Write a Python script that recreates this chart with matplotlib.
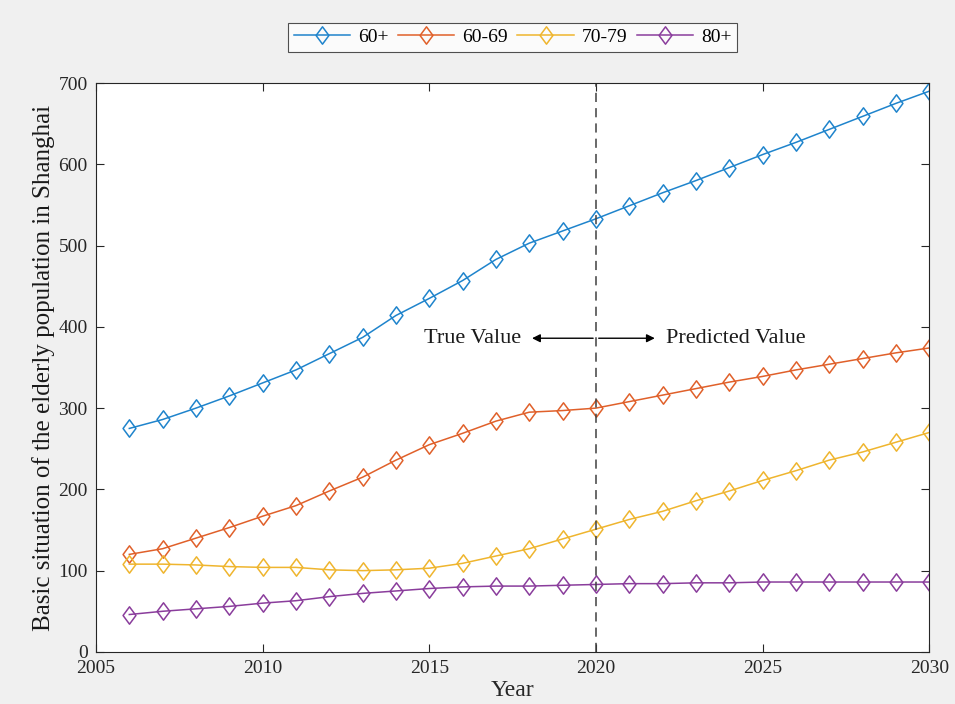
import matplotlib
matplotlib.use("Agg")
import matplotlib.pyplot as plt
from matplotlib.path import Path

years = list(range(2006, 2031))
age_60_plus = [275, 286, 300, 315, 331, 347, 367, 387, 414, 435, 457, 483, 503, 518,
               533, 549, 565, 580, 596, 612, 627, 643, 659, 675, 690]
age_60_69 = [120, 127, 140, 153, 167, 180, 198, 215, 236, 255, 269, 284, 295, 297,
             300, 308, 316, 324, 332, 339, 347, 354, 361, 368, 374]
age_70_79 = [108, 108, 107, 105, 104, 104, 101, 100, 101, 103, 109, 118, 127, 139,
             151, 163, 173, 186, 198, 211, 223, 236, 246, 258, 270]
age_80_plus = [46, 50, 53, 56, 60, 63, 68, 72, 75, 78, 80, 81, 81, 82,
               83, 84, 84, 85, 85, 86, 86, 86, 86, 86, 86]
series_labels = ["60+", "60-69", "70-79", "80+"]
colors = ["#1f84cc", "#e0602a", "#efb52e", "#8a3d9c"]
split_year = 2020

plt.rcParams["font.family"] = ["Liberation Serif", "DejaVu Serif"]

diamond = Path([(0, 1), (0.74, 0), (0, -1), (-0.74, 0), (0, 1)],
               [Path.MOVETO, Path.LINETO, Path.LINETO, Path.LINETO, Path.CLOSEPOLY])

fig = plt.figure(figsize=(9.55, 7.04), dpi=100, facecolor="#f0f0f0")
ax = fig.add_axes([0.1005, 0.074, 0.8725, 0.808])
ax.set_facecolor("white")

for vals, lab, c in zip([age_60_plus, age_60_69, age_70_79, age_80_plus], series_labels, colors):
    ax.plot(years, vals, color=c, lw=1.1, marker=diamond, markersize=12.5,
            markerfacecolor="none", markeredgecolor=c, markeredgewidth=1.1, label=lab)

ax.axvline(split_year, color="#404040", lw=1.1, ls=(0, (6, 4)))

ax.annotate("", xy=(2018.0, 386), xytext=(split_year, 386),
            arrowprops=dict(arrowstyle="-|>", color="black", lw=1.0, mutation_scale=12))
ax.annotate("", xy=(2021.85, 386), xytext=(split_year, 386),
            arrowprops=dict(arrowstyle="-|>", color="black", lw=1.0, mutation_scale=12))
ax.text(2017.75, 386, "True Value", ha="right", va="center", fontsize=16, color="#1a1a1a")
ax.text(2022.1, 386, "Predicted Value", ha="left", va="center", fontsize=16, color="#1a1a1a")

ax.set_xlim(2005, 2030)
ax.set_ylim(0, 700)
ax.set_xticks(range(2005, 2031, 5))
ax.set_yticks(range(0, 701, 100))
ax.tick_params(direction="in", top=True, right=True, length=6, width=0.8,
               labelsize=14, colors="#262626", pad=6)
for s in ax.spines.values():
    s.set_color("#262626")
    s.set_linewidth(0.8)

ax.set_xlabel("Year", fontsize=17, labelpad=2, color="#262626")
ax.set_ylabel("Basic situation of the elderly population in Shanghai", fontsize=18,
              labelpad=2, color="#1a1a1a")

ax_center = (ax.get_position().x0 + ax.get_position().x1) / 2
leg = fig.legend(loc="center", bbox_to_anchor=(ax_center, 0.947), ncol=4, fontsize=14,
                 frameon=True, fancybox=False, edgecolor="#262626",
                 handlelength=2.9, columnspacing=0.5, handletextpad=0.4,
                 borderpad=0.3, borderaxespad=0)
leg.get_frame().set_linewidth(0.8)

fig.savefig("out.png", dpi=100, facecolor=fig.get_facecolor())
